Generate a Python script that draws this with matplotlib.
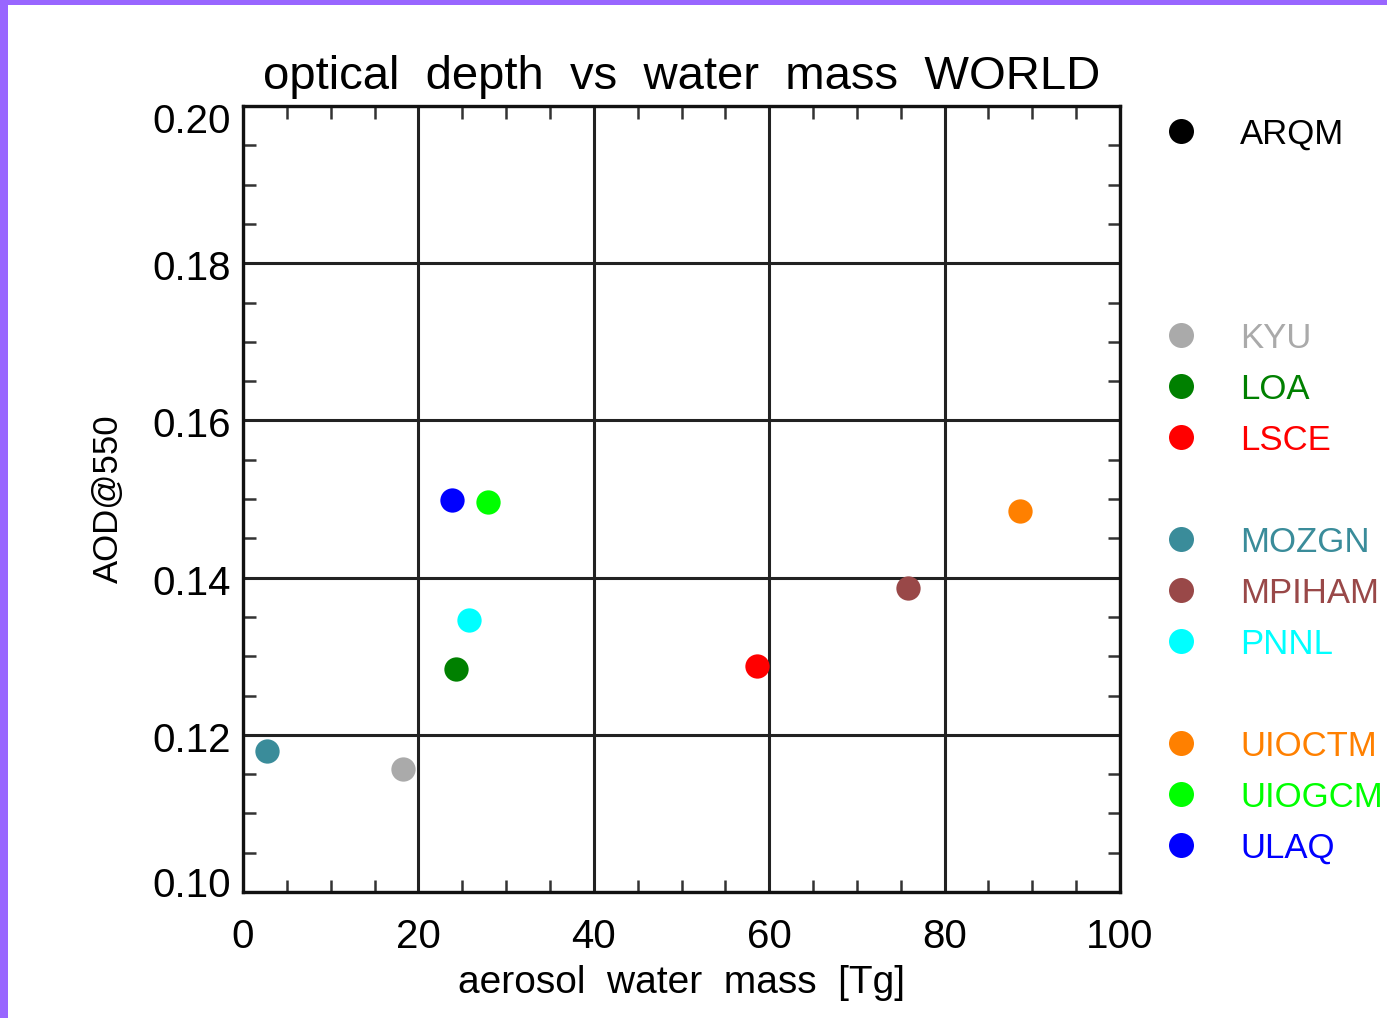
"""
Optical depth vs aerosol water mass (WORLD), one point per model.
"""

import matplotlib
matplotlib.use("Agg")
import matplotlib.pyplot as plt
from matplotlib.patches import Rectangle
from matplotlib.ticker import MultipleLocator
from matplotlib.transforms import ScaledTranslation

# Models in legend order; None = blank legend row
legend_rows = ["ARQM", None, None, None, "KYU", "LOA", "LSCE", None,
               "MOZGN", "MPIHAM", "PNNL", None, "UIOCTM", "UIOGCM", "ULAQ"]

colors = {
    "ARQM": "#000000",
    "KYU": "#aaaaaa",
    "LOA": "#008000",
    "LSCE": "#ff0000",
    "MOZGN": "#3a8c9a",
    "MPIHAM": "#994848",
    "PNNL": "#00ffff",
    "UIOCTM": "#ff8000",
    "UIOGCM": "#00ff00",
    "ULAQ": "#0000ff",
}

# aerosol water mass [Tg] and AOD@550 (ARQM has no data point)
models = ["MOZGN", "KYU", "ULAQ", "UIOGCM", "PNNL", "LOA", "LSCE", "MPIHAM", "UIOCTM"]
water_mass = [2.7, 18.2, 23.8, 27.9, 25.8, 24.3, 58.6, 75.8, 88.6]
aod550 = [0.1179, 0.1156, 0.1499, 0.1496, 0.1346, 0.1284, 0.1288, 0.1387, 0.1485]

W, H = 1387, 1018
plt.rcParams['font.family'] = ['Liberation Sans', 'DejaVu Sans']

fig = plt.figure(figsize=(W / 100, H / 100), dpi=100)
fig.patch.set_facecolor('white')

# purple frame on left and top edges
purple = '#9966ff'
fig.add_artist(Rectangle((0, 0), 8 / W, 1, transform=fig.transFigure,
                         color=purple, lw=0, zorder=0))
fig.add_artist(Rectangle((0, 1 - 5 / H), 1, 5 / H, transform=fig.transFigure,
                         color=purple, lw=0, zorder=0))

ax = fig.add_axes([243 / W, 1 - 892 / H, (1120 - 243) / W, (892 - 106) / H])

for name, x, y in zip(models, water_mass, aod550):
    ax.plot(x, y, 'o', color=colors[name], markersize=17.5, markeredgewidth=0,
            zorder=5, clip_on=False)

ax.set_xlim(0, 100)
ax.set_ylim(0.10, 0.20)
ax.xaxis.set_major_locator(MultipleLocator(20))
ax.xaxis.set_minor_locator(MultipleLocator(5))
ax.yaxis.set_major_locator(MultipleLocator(0.02))
ax.yaxis.set_minor_locator(MultipleLocator(0.005))
ax.yaxis.set_major_formatter(plt.FuncFormatter(lambda v, p: f"{v:.2f}"))

ax.grid(True, which='major', color='#222222', linewidth=2.2)
ax.tick_params(which='both', direction='in', top=True, right=True,
               labelsize=29, color='#333333')
ax.tick_params(which='major', length=0)
ax.tick_params(axis='y', which='major', pad=9)
ax.tick_params(axis='x', which='major', pad=19)
ax.tick_params(which='minor', length=9, width=1.8)
for s in ax.spines.values():
    s.set_linewidth(2.4)
    s.set_color('#111111')

ax.set_title('optical  depth  vs  water  mass  WORLD', fontsize=34, pad=12)
ax.set_xlabel('aerosol  water  mass  [Tg]', fontsize=28, labelpad=6)
ax.set_ylabel('AOD@550', fontsize=25)
ax.yaxis.set_label_coords(-0.135, 0.50)

# end labels on the y axis sit pulled in toward the plot
fig.canvas.draw()
for tick in ax.yaxis.get_major_ticks():
    loc = round(tick.get_loc(), 3)
    if loc == 0.20:
        dy = -12
    elif loc == 0.10:
        dy = 10
    else:
        dy = -2
    tick.label1.set_transform(tick.label1.get_transform() +
                              ScaledTranslation(0, dy / 100, fig.dpi_scale_trans))

# legend drawn as a column of markers and coloured names
row_h = 51
for i, name in enumerate(legend_rows):
    if name is None:
        continue
    yp = 1 - (131 + i * row_h) / H
    fig.lines.append(plt.Line2D([1181 / W], [yp], transform=fig.transFigure,
                                marker='o', color=colors[name], markersize=18,
                                markeredgewidth=0, linestyle='none'))
    fig.text(1240 / W, yp, name, color=colors[name], fontsize=25,
             ha='left', va='center_baseline')

plt.savefig('out.png', dpi=100)
plt.close()
